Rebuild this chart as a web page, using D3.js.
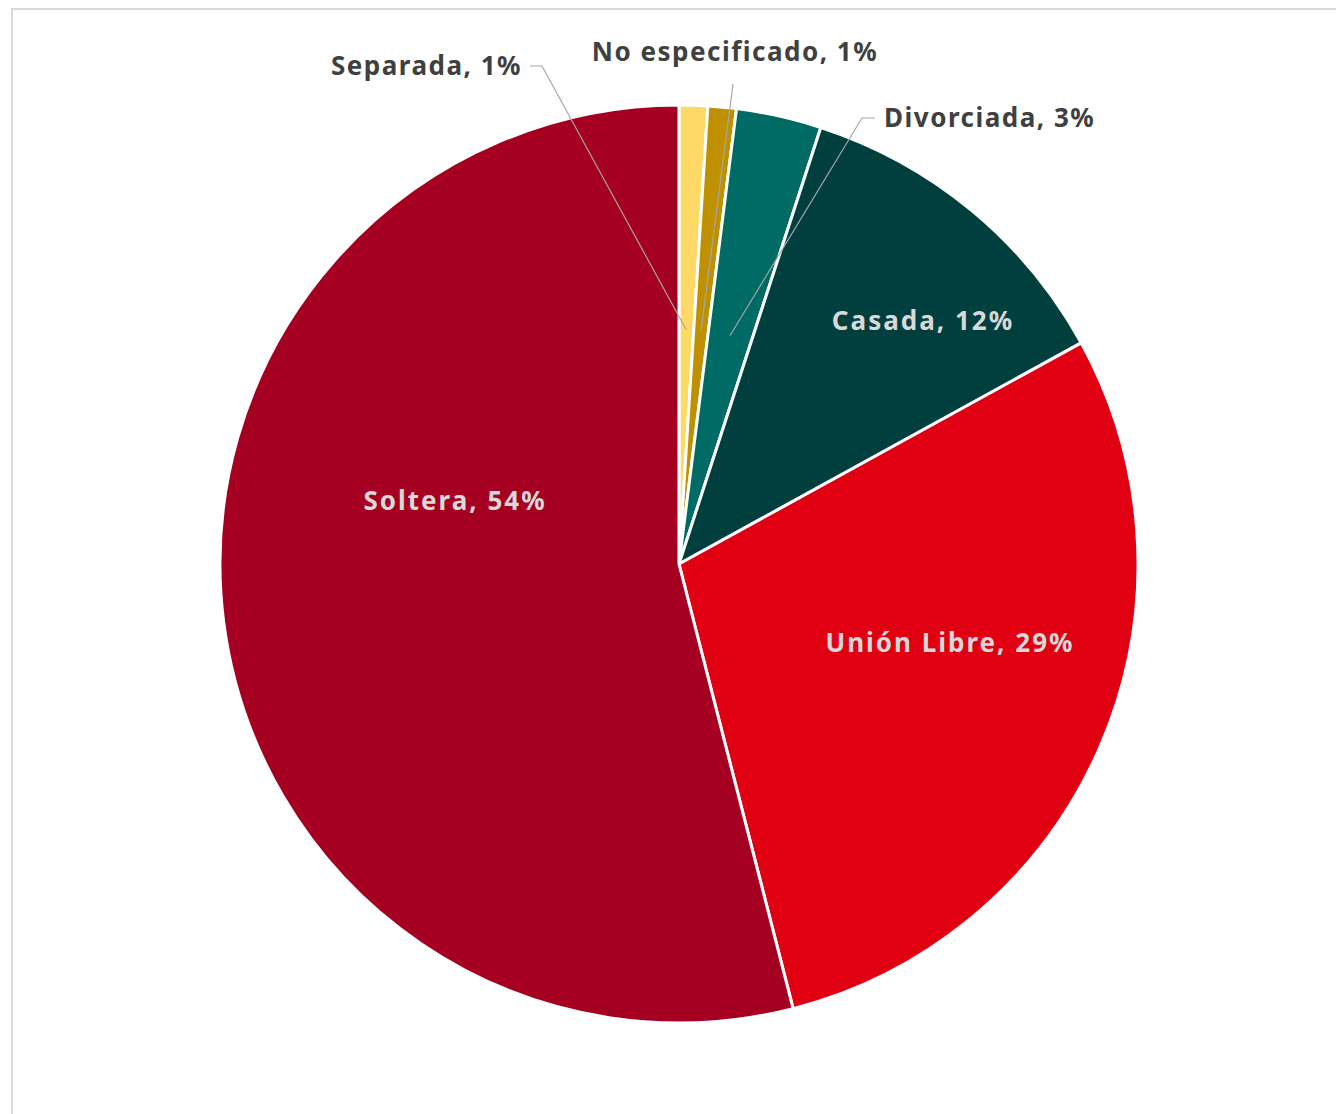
<!DOCTYPE html>
<html>
<head>
<meta charset="utf-8">
<script src="https://cdn.jsdelivr.net/npm/d3@7"></script>
<style>
  body { margin: 0; background: #fff; }
  svg { display: block; }
</style>
</head>
<body>
<div id="chart"></div>
<script>
// data, clockwise from 12 o'clock
const categories = ["Separada", "No especificado", "Divorciada", "Casada", "Unión Libre", "Soltera"];
const values = [1, 1, 3, 12, 29, 54];
const colors = ["#fed966", "#bf9000", "#006a64", "#013f3f", "#e10012", "#a50021"];

const width = 1336, height = 1114;
const cx = 679, cy = 564, radius = 459;

// label layout: outside labels get a leader line, inside ones sit on the slice
const label_layout = [
  {x: 522, y: 66, anchor: "end", outside: true, bend: [542, 66]},
  {x: 735, y: 52, anchor: "middle", outside: true, bend: [733, 84]},
  {x: 884, y: 118, anchor: "start", outside: true, bend: [862, 118]},
  {x: 923, y: 321, anchor: "middle", outside: false},
  {x: 950, y: 643, anchor: "middle", outside: false},
  {x: 455, y: 501, anchor: "middle", outside: false}
];

const data = categories.map((c, i) => ({name: c, value: values[i], color: colors[i], layout: label_layout[i]}));

const svg = d3.select("#chart")
  .append("svg")
  .attr("width", width)
  .attr("height", height)
  .style("font-family", "'Noto Sans', 'Open Sans', sans-serif");

// chart frame
svg.append("rect")
  .attr("x", 12).attr("y", 9)
  .attr("width", width).attr("height", height)
  .attr("fill", "none")
  .attr("stroke", "#d9d9d9")
  .attr("stroke-width", 2);

const pie = d3.pie().sort(null).value(d => d.value);
const arcs = pie(data);

const arc = d3.arc().innerRadius(0).outerRadius(radius);
const leaderArc = d3.arc().innerRadius(radius * 0.51).outerRadius(radius * 0.51);

const g = svg.append("g").attr("transform", `translate(${cx},${cy})`);

g.selectAll("path")
  .data(arcs)
  .join("path")
    .attr("d", arc)
    .attr("fill", d => d.data.color)
    .attr("stroke", "#fff")
    .attr("stroke-width", 3)
    .attr("stroke-linejoin", "round");

// leader lines
g.selectAll("polyline")
  .data(arcs.filter(d => d.data.layout.outside))
  .join("polyline")
    .attr("fill", "none")
    .attr("stroke", "#a6a6a6")
    .attr("stroke-width", 1.2)
    .attr("points", d => {
      const L = d.data.layout;
      const end = leaderArc.centroid(d);
      const start = L.anchor === "end" ? [L.x + 8 - cx, L.y - cy]
                  : L.anchor === "start" ? [L.x - 9 - cx, L.y - cy]
                  : [L.bend[0] - cx, L.bend[1] - cy];
      const bend = [L.bend[0] - cx, L.bend[1] - cy];
      return [start, bend, end].map(p => p.join(",")).join(" ");
    });

svg.append("g")
  .selectAll("text")
  .data(arcs)
  .join("text")
    .attr("x", d => d.data.layout.x)
    .attr("y", d => d.data.layout.y)
    .attr("dy", "0.35em")
    .attr("text-anchor", d => d.data.layout.anchor)
    .attr("font-size", 26)
    .attr("font-weight", "bold")
    .attr("letter-spacing", d => d.data.layout.outside ? 1.5 : 2)
    .attr("fill", d => d.data.layout.outside ? "#404040" : "#d9d9d9")
    .text(d => `${d.data.name}, ${d3.format(".0f")(d.data.value)}%`);
</script>
</body>
</html>
